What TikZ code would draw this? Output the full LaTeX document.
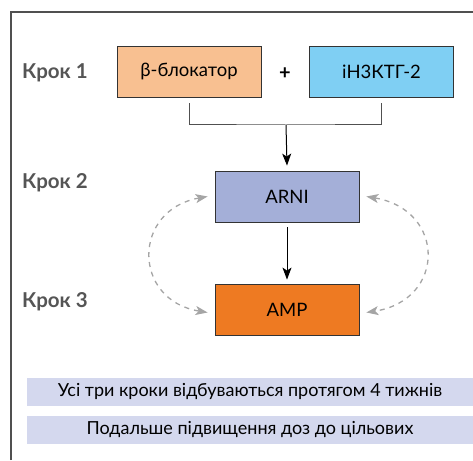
\documentclass[tikz,border=0pt]{standalone}
\usepackage{fontspec}
\setmainfont{Lato}
\usetikzlibrary{arrows.meta, calc}

\definecolor{okvir}{RGB}{80,80,80}
\definecolor{sivo}{RGB}{85,85,85}
\definecolor{pomar}{RGB}{248,192,145}
\definecolor{plavo}{RGB}{127,207,243}
\definecolor{lila}{RGB}{164,175,216}
\definecolor{naran}{RGB}{238,122,34}
\definecolor{traka}{RGB}{212,216,238}
\definecolor{crtkano}{RGB}{165,165,165}

\begin{document}
\begin{tikzpicture}[x=1pt, y=1pt,
        kutija/.style={draw=black!80, line width=0.8pt, minimum width=144pt, minimum height=51pt, font=\fontsize{18.5}{22}\selectfont},
        korak/.style={anchor=west, text=sivo, inner sep=0pt, font=\fontsize{20.5}{24}\selectfont\bfseries},
        pojas/.style={fill=traka, minimum width=446pt, minimum height=28pt, inner sep=0pt, font=\fontsize{18}{21}\selectfont},
        vrh/.style={-{Stealth[length=12pt, width=9pt, inset=3pt]}, line width=1pt},
        petlja/.style={{Stealth[length=12pt, width=9pt, inset=3pt]}-{Stealth[length=12pt, width=9pt, inset=3pt]}, crtkano, line width=1.3pt, dash pattern=on 5pt off 5pt}]
        % Okvir slike
        \useasboundingbox (0,0) rectangle (473,460);
        \draw[okvir, line width=1.3pt] (11,0) -- (11,448) -- (473,448);

        % Oznake koraka
        \node[korak] (krok1) at (22,387) {Крок 1};
        \node[korak] (krok2) at (22,277) {Крок 2};
        \node[korak] (krok3) at (22,158) {Крок 3};

        % Korak 1
        \node[kutija, fill=pomar] (blok) at (189,388.5) {β-блокатор};
        \node[kutija, fill=plavo] (inhib) at (381.5,388.5) {іН3КТГ-2};
        \node[font=\fontsize{20}{24}\selectfont\bfseries] (plus) at (285,386) {+};

        % Korak 2 i 3
        \node[kutija, fill=lila] (arni) at (287,263.5) {ARNI};
        \node[kutija, fill=naran] (amp) at (287,150.5) {AMP};

        % Spajanje
        \coordinate (spoj) at (286,335);
        \draw[okvir, line width=1pt] ($(blok.south)+(0,-6)$) |- (spoj) -| ($(inhib.south)+(0,-6)$);
        \draw[vrh] (spoj) -- ($(arni.north)+(0,5)$);
        \draw[vrh] ($(arni.south)+(0,-5)$) -- ($(amp.north)+(0,4)$);

        % Isprekidane strelice
        \draw[petlja] ($(arni.west)+(-7,0)$) .. controls (132,250) and (132,160) .. ($(amp.west)+(-7,-3)$);
        \draw[petlja] ($(arni.east)+(7,0)$) .. controls (446,250) and (446,160) .. ($(amp.east)+(7,-3)$);

        % Trake s tekstom
        \node[pojas] (traka1) at (250,68) {Усі три кроки відбуваються протягом 4 тижнів};
        \node[pojas] (traka2) at (250,30) {Подальше підвищення доз до цільових};

    \end{tikzpicture}
\end{document}
